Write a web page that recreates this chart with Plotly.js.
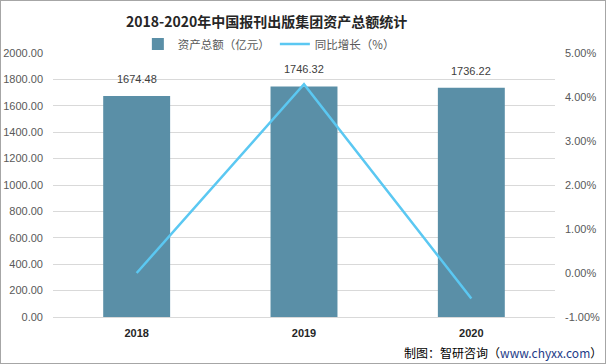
<!DOCTYPE html>
<html><head><meta charset="utf-8">
<script src="https://cdn.plot.ly/plotly-3.0.1.min.js"></script>
<style>html,body{margin:0;padding:0;background:#fff}#wrap{position:relative;width:606px;height:364px}#c{width:606px;height:364px}#frame{position:absolute;left:0;top:0;width:604px;height:362px;border:1px solid #a6a6a6;pointer-events:none}</style>
</head><body><div id="wrap"><div id="c"></div><div id="frame"></div></div>
<script>
var years = ['2018', '2019', '2020'];
var assets = [1674.48, 1746.32, 1736.22];
var growth = [0.00, 4.29, -0.58];
var leftTicks = [0, 200, 400, 600, 800, 1000, 1200, 1400, 1600, 1800, 2000];
var rightTicks = [-1, 0, 1, 2, 3, 4, 5];

var tickFont = {family: 'Liberation Sans, Arial, sans-serif', size: 11, color: '#595959'};
var data = [
  {type: 'bar', x: years, y: assets, name: '资产总额（亿元）',
   marker: {color: '#5A8FA7'}, hoverinfo: 'none'},
  {type: 'scatter', mode: 'lines', x: years, y: growth, yaxis: 'y2', name: '同比增长（%）',
   line: {color: '#5BC8F2', width: 2.5}, hoverinfo: 'none'}
];
var anns = years.map(function(y, i){
  return {x: i, y: assets[i], xref: 'x', yref: 'y', text: assets[i].toFixed(2), showarrow: false,
          yanchor: 'bottom', yshift: 9,
          font: {family: 'Liberation Sans, Arial, sans-serif', size: 11, color: '#404040'}};
});
anns.push({xref: 'paper', yref: 'paper', x: 1.097, y: -0.133, xanchor: 'right', yanchor: 'middle', showarrow: false,
     text: '制图：智研咨询（<span style="color:#1F3C88">www.chyxx.com</span>）',
     font: {family: 'Noto Sans CJK SC, sans-serif', size: 12, color: '#000'}});
var layout = {
  width: 606, height: 364,
  margin: {l: 53, r: 51, t: 53, b: 47},
  paper_bgcolor: '#fff', plot_bgcolor: '#fff',
  bargap: 0.6,
  showlegend: true,
  title: {text: '<b>2018-2020年中国报刊出版集团资产总额统计</b>', x: 0.44, xanchor: 'center', y: 0.94, yanchor: 'middle',
          font: {family: 'Noto Sans CJK SC, sans-serif', size: 14, color: '#262626'}},
  legend: {orientation: 'h', x: 0.43, xanchor: 'center', y: 1.034, yanchor: 'middle',
           font: {family: 'Noto Sans CJK SC, sans-serif', size: 11.5, color: '#595959'},
           tracegroupgap: 0},
  xaxis: {type: 'category', range: [-0.5, 2.5], showgrid: false, showline: true, linecolor: '#d9d9d9', linewidth: 1,
          ticks: '', ticklabelstandoff: 6, tickfont: {family: 'Liberation Sans, Arial, sans-serif', size: 11, color: '#262626'},
          tickvals: years, ticktext: years.map(function(y){return '<b>'+y+'</b>';})},
  yaxis: {range: [0, 2000], tickvals: leftTicks, ticktext: leftTicks.map(function(v){return v.toFixed(2);}),
          showgrid: true, gridcolor: '#d9d9d9', zeroline: false, showline: false, ticks: '', ticklabelstandoff: 9, tickfont: tickFont},
  yaxis2: {range: [-1, 5], overlaying: 'y', side: 'right', tickvals: rightTicks,
           ticktext: rightTicks.map(function(v){return v.toFixed(2)+'%';}),
           showgrid: false, zeroline: false, showline: false, ticks: '', ticklabelstandoff: 9, tickfont: tickFont},
  annotations: anns
};
Plotly.newPlot('c', data, layout, {displayModeBar: false, staticPlot: true});
</script></body></html>
